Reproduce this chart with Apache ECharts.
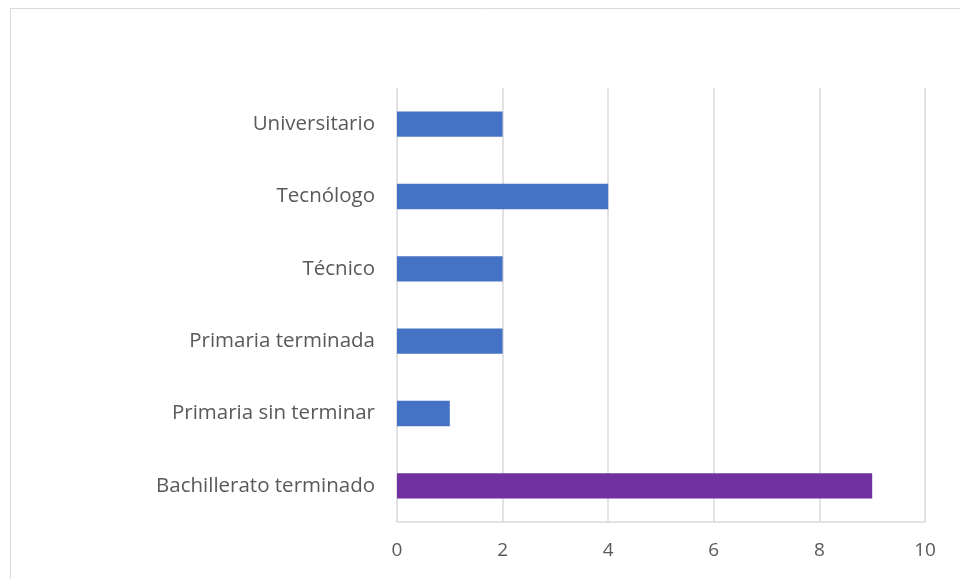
<!DOCTYPE html>
<html>
<head>
    <meta charset="utf-8">
    <title>Nivel educativo</title>
    <script src="https://cdn.jsdelivr.net/npm/echarts@6/dist/echarts.min.js"></script>
    <style>
        html, body { margin: 0; padding: 0; background: #fff; }
        #chart-container { width: 960px; height: 579px; }
    </style>
</head>
<body>
<div id="chart-container"></div>
<script>
    // categories listed bottom to top
    var categories = ['Bachillerato terminado', 'Primaria sin terminar', 'Primaria terminada', 'Técnico', 'Tecnólogo', 'Universitario'];
    var values = [9, 1, 2, 2, 4, 2];
    var barColors = ['#7030A0', '#4472C4', '#4472C4', '#4472C4', '#4472C4', '#4472C4'];

    var myChart = echarts.init(document.getElementById('chart-container'));

    var option = {
        animation: false,
        graphic: [{
            type: 'rect',
            shape: { x: 10.5, y: 8.5, width: 980, height: 600 },
            style: { fill: 'none', stroke: '#d9d9d9', lineWidth: 1 }
        }],
        grid: {
            left: 397,
            right: 35,
            top: 88,
            bottom: 57
        },
        xAxis: {
            type: 'value',
            min: 0,
            max: 10,
            interval: 2,
            axisLine: { show: true, lineStyle: { color: '#d9d9d9', width: 1.5 } },
            axisTick: { show: false },
            splitLine: { show: true, lineStyle: { color: '#d9d9d9', width: 1.5 } },
            axisLabel: {
                color: '#595959',
                fontSize: 19,
                fontFamily: 'Open Sans',
                margin: 19
            }
        },
        yAxis: {
            type: 'category',
            data: categories,
            axisLine: { show: false },
            axisTick: { show: false },
            axisLabel: {
                color: '#595959',
                fontSize: 20.5,
                fontFamily: 'Open Sans',
                margin: 22
            }
        },
        series: [{
            type: 'bar',
            data: values,
            barWidth: '35%',
            itemStyle: {
                color: function (params) {
                    return barColors[params.dataIndex];
                }
            }
        }]
    };

    myChart.setOption(option);
</script>
</body>
</html>
